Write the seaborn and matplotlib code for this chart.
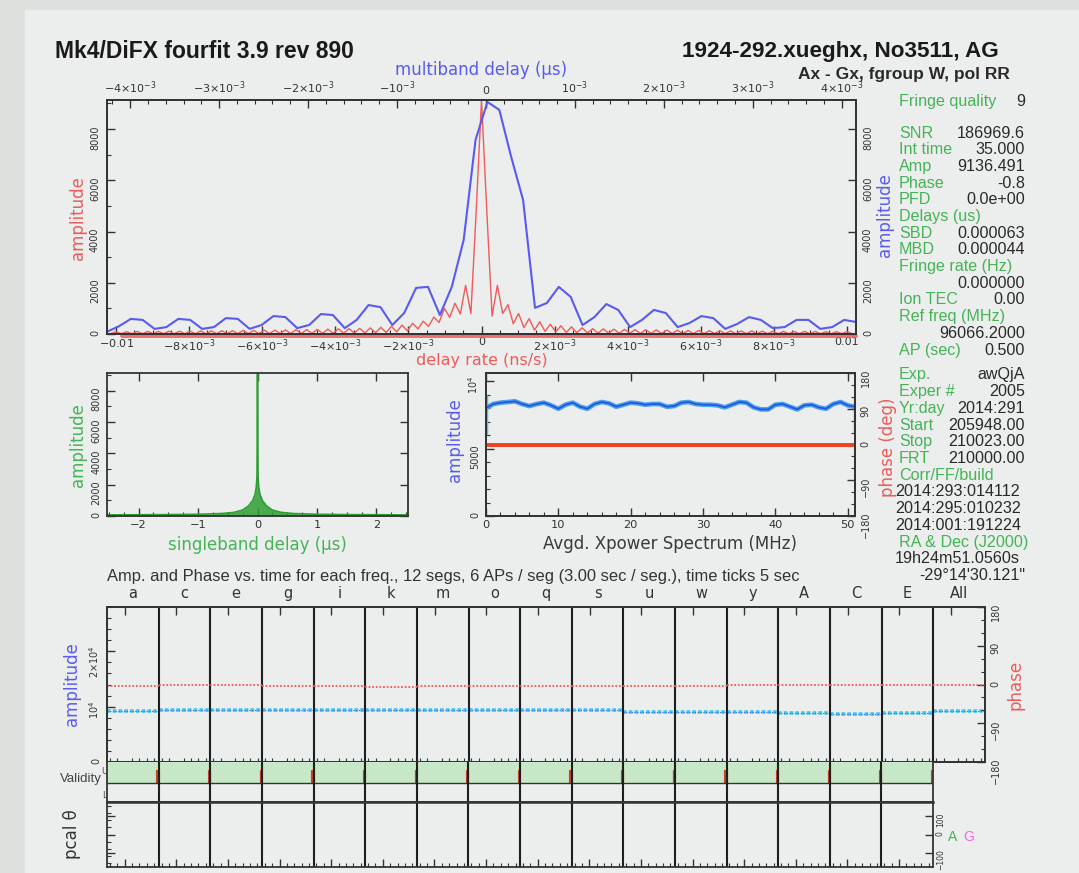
import numpy as np
import pandas as pd
import seaborn as sns
import matplotlib.pyplot as plt
from matplotlib.ticker import MultipleLocator, NullFormatter

# ---------------- data ----------------
# multiband delay function (blue), 64 samples across the window
mbd_lo, mbd_hi = -4.26e-3, 4.16e-3
mbd_amp = [90, 300, 590, 550, 200, 270, 590, 550, 200, 270,
           620, 590, 200, 350, 700, 660, 230, 350, 780, 740,
           230, 550, 1130, 1050, 350, 820, 1800, 1840, 740, 1840,
           3670, 7580, 9060, 8750, 6910, 5230, 1020, 1210, 1840, 1450,
           350, 660, 1170, 940, 270, 550, 940, 820, 270, 430,
           700, 620, 200, 390, 660, 550, 230, 270, 550, 550,
           200, 270, 550, 470]

# delay rate function (red): peak, then samples going outward each side
rate_peak = 9136
rate_step = 1.45e-4
rate_right = [4800, 700, 1900, 800, 1150, 400, 800, 250, 600, 150,
              480, 100, 380, 80, 320, 60, 280, 50, 240, 40,
              210, 30, 200, 30, 190, 25, 180, 25, 170, 20,
              170, 20, 160, 20, 150, 20, 150, 15, 140, 15,
              140, 15, 130, 15, 130, 15, 120, 10, 120, 10,
              120, 10, 110, 10, 110, 10, 100, 10, 100, 10,
              100, 10, 100, 10, 90, 10, 90, 10, 90, 10]
rate_left = [4800, 800, 1900, 780, 1200, 650, 1000, 450, 660, 300,
             500, 200, 420, 120, 350, 80, 300, 60, 260, 50,
             240, 40, 220, 35, 210, 30, 200, 30, 190, 25,
             180, 25, 170, 20, 170, 20, 160, 20, 150, 15,
             150, 15, 140, 15, 140, 15, 130, 10, 130, 10,
             120, 10, 120, 10, 110, 10, 110, 10, 110, 10,
             100, 10, 100, 10, 100, 10, 90, 10, 90, 10]
rate_lim = 0.01025
amp_max = 9136.491

# singleband delay envelope (green)
sbd_x = [-2.53, -2.0, -1.5, -1.0, -0.6, -0.4, -0.25, -0.15, -0.08, -0.04,
         -0.02, -0.008, 0.0, 0.008, 0.02, 0.04, 0.08, 0.15, 0.25, 0.4,
         0.6, 1.0, 1.5, 2.0, 2.53]
sbd_amp = [70, 80, 90, 110, 160, 230, 380, 650, 1000, 1400,
           1850, 2600, 9136, 2600, 1850, 1400, 1000, 650, 380, 230,
           160, 110, 90, 80, 70]

# averaged cross-power spectrum, 1 MHz steps
xp_freq = list(range(52))
xp_amp = [8000, 8300, 8400, 8450, 8500, 8300, 8150, 8300, 8400, 8200,
          7950, 8250, 8400, 8100, 7950, 8300, 8450, 8350, 8100, 8250,
          8400, 8350, 8250, 8300, 8300, 8100, 8150, 8400, 8450, 8300,
          8250, 8250, 8200, 8050, 8250, 8450, 8400, 8050, 7900, 7900,
          8250, 8300, 8100, 7900, 8200, 8250, 8050, 7950, 8300, 8450,
          8200, 8100]
xp_edge_freq = [0, 51]
xp_edge_lo = [6100, 6200]
xp_edge_hi = [9000, 8800]
xp_phase = -0.8

# per-channel amplitude / phase vs time
channels = ['a', 'c', 'e', 'g', 'i', 'k', 'm', 'o', 'q', 's', 'u', 'w',
            'y', 'A', 'C', 'E', 'All']
chan_amp = [9300, 9350, 9350, 9350, 9450, 9450, 9450, 9450, 9350, 9400,
            9100, 9050, 8950, 8800, 8750, 8800, 9136]
chan_phase = [-3, 0, 0, -3, -4, -5, -4, -4, -4, -4, -3, -3, -1, 0, -1, -2, -2]
seg_len = 35            # seconds in each channel box
time_ticks = [2, 7, 17, 22, 27, 32]
time_major = 12
n_aps = 70
ap_len = 0.5
flagged_aps = [67, 68, 69]

info_labels = ['Fringe quality', 'SNR', 'Int time', 'Amp', 'Phase', 'PFD',
               'Delays (us)', 'SBD', 'MBD', 'Fringe rate (Hz)', '', 'Ion TEC',
               'Ref freq (MHz)', '', 'AP (sec)', 'Exp.', 'Exper #', 'Yr:day',
               'Start', 'Stop', 'FRT', 'Corr/FF/build', '', '', '',
               'RA & Dec (J2000)', '', '']
info_values = ['9', '186969.6', '35.000', '9136.491', '-0.8', '0.0e+00', '',
               '0.000063', '0.000044', '', '0.000000', '0.00', '', '96066.2000',
               '0.500', 'awQjA', '2005', '2014:291', '205948.00', '210023.00',
               '210000.00', '', '2014:293:014112', '2014:295:010232',
               '2014:001:191224', '', '19h24m51.0560s', '-29\u00b014\'30.121"']
info_align = ['r'] * 22 + ['l', 'l', 'l', 'r', 'l', 'r']

# ---------------- style ----------------
RED = '#ef5a5a'
BLUE = '#5a5af0'
GREEN = '#2f9e35'
GTXT = '#45b356'
DARK = '#2a2a2a'
BG = '#ebeeec'

sns.set_theme(style='ticks')
plt.rcParams['font.family'] = ['DejaVu Sans']
plt.rcParams['axes.facecolor'] = BG
plt.rcParams['axes.edgecolor'] = '#333333'
plt.rcParams['axes.linewidth'] = 1.3
plt.rcParams['xtick.color'] = '#333333'
plt.rcParams['ytick.color'] = '#333333'

W, H = 1079, 873
fig = plt.figure(figsize=(W / 100, H / 100), dpi=100)
fig.patch.set_facecolor('#dde1de')
fig.patches.append(plt.Rectangle((25 / W, 0), 1, 1 - 10 / H, transform=fig.transFigure,
                                 color=BG, zorder=-10))


def box(l, t, r, b):
    return fig.add_axes([l / W, 1 - b / H, (r - l) / W, (b - t) / H])


def ftext(x, y, s, **kw):
    kw.setdefault('ha', 'center')
    kw.setdefault('va', 'center')
    fig.text(x / W, 1 - y / H, s, **kw)


def ticks_in(ax, size=7):
    ax.tick_params(which='both', direction='in', labelsize=size, pad=3)
    ax.tick_params(which='major', length=6, width=1)
    ax.tick_params(which='minor', length=3, width=0.8)


SANS = ['Liberation Sans', 'DejaVu Sans']
LAB = 12

# ---------------- titles ----------------
ftext(55, 52, 'Mk4/DiFX fourfit 3.9 rev 890', ha='left', fontsize=16.5,
      fontweight='bold', family=SANS, color='#1a1a1a')
ftext(999, 52, '1924-292.xueghx, No3511, AG', ha='right', fontsize=16.2,
      fontweight='bold', family=SANS, color='#1a1a1a')
ftext(1010, 74, 'Ax - Gx, fgroup W, pol RR', ha='right', fontsize=12.5,
      fontweight='bold', family=SANS, color='#2a2a2a')

# ---------------- top: delay rate / multiband delay ----------------
ax = box(107, 100, 856, 334)
rate_amp = rate_left[::-1] + [rate_peak] + rate_right
rate_x = rate_step * np.arange(-len(rate_left), len(rate_right) + 1)
sns.lineplot(x=rate_x, y=rate_amp, ax=ax, color=RED, lw=1.0, estimator=None)
ax.axhline(-95, xmin=0.02, xmax=1.0, color=RED, lw=2.8, clip_on=False, alpha=0.85)
ax.set_xlim(-rate_lim, rate_lim)
ax.set_ylim(0, amp_max)
rate_ticks = [-0.01, -0.008, -0.006, -0.004, -0.002, 0, 0.002, 0.004, 0.006, 0.008, 0.01]
rate_labels = ['$-0.01$', r'$-8{\times}10^{-3}$', r'$-6{\times}10^{-3}$',
               r'$-4{\times}10^{-3}$', r'$-2{\times}10^{-3}$', '0',
               r'$2{\times}10^{-3}$', r'$4{\times}10^{-3}$', r'$6{\times}10^{-3}$',
               r'$8{\times}10^{-3}$', '0.01']
ax.set_xticks(rate_ticks, rate_labels)
ax.xaxis.set_minor_locator(MultipleLocator(5e-4))
ax.set_yticks([0, 2000, 4000, 6000, 8000], ['0', '2000', '4000', '6000', '8000'])
ax.yaxis.set_minor_locator(MultipleLocator(1000))
ticks_in(ax)
ax.tick_params(axis='x', labelsize=8, pad=2.5)
ax.tick_params(axis='y', right=True, labelright=True, labelrotation=90, pad=5)
ax.tick_params(axis='x', top=False)
ax.set_xlabel('')
ax.set_ylabel('')

ax2 = ax.twiny()
mbd_x = np.linspace(mbd_lo, mbd_hi, len(mbd_amp))
sns.lineplot(x=mbd_x, y=mbd_amp, ax=ax2, color=BLUE, lw=1.5, estimator=None)
ax2.set_xlim(mbd_lo, mbd_hi)
mbd_ticks = [-4e-3, -3e-3, -2e-3, -1e-3, 0, 1e-3, 2e-3, 3e-3, 4e-3]
mbd_labels = [r'$-4{\times}10^{-3}$', r'$-3{\times}10^{-3}$', r'$-2{\times}10^{-3}$',
              r'$-10^{-3}$', '0', r'$10^{-3}$', r'$2{\times}10^{-3}$',
              r'$3{\times}10^{-3}$', r'$4{\times}10^{-3}$']
ax2.set_xticks(mbd_ticks, mbd_labels)
ax2.xaxis.set_minor_locator(MultipleLocator(2e-4))
ticks_in(ax2, size=8)
ax2.set_xlabel('')
ax2.set_ylabel('')

ftext(481, 70, 'multiband delay (\u03bcs)', color=BLUE, fontsize=LAB)
ftext(482, 361, 'delay rate (ns/s)', color=RED, fontsize=11.5)
ftext(78, 218, 'amplitude', color=RED, fontsize=LAB, rotation=90)
ftext(885, 215, 'amplitude', color=BLUE, fontsize=LAB, rotation=90)

# ---------------- middle left: singleband delay ----------------
axs = box(107, 373, 408, 516)
axs.fill_between(sbd_x, 0, sbd_amp, color=GREEN, alpha=0.85, lw=0)
sns.lineplot(x=sbd_x, y=sbd_amp, ax=axs, color=GREEN, lw=1.2, estimator=None)
axs.set_xlim(-2.53, 2.53)
axs.set_ylim(0, amp_max)
axs.set_xticks([-2, -1, 0, 1, 2], ['\u22122', '\u22121', '0', '1', '2'])
axs.xaxis.set_minor_locator(MultipleLocator(0.25))
axs.set_yticks([0, 2000, 4000, 6000, 8000], ['0', '2000', '4000', '6000', '8000'])
axs.yaxis.set_minor_locator(MultipleLocator(1000))
ticks_in(axs)
axs.tick_params(axis='x', labelsize=8.2)
axs.tick_params(top=True, right=True)
axs.tick_params(axis='y', labelrotation=90, pad=4)
axs.set_xlabel('')
axs.set_ylabel('')
ftext(78, 445, 'amplitude', color=GTXT, fontsize=LAB, rotation=90)
ftext(257, 545, 'singleband delay (\u03bcs)', color=GTXT, fontsize=LAB)

# ---------------- middle right: cross power spectrum ----------------
axx = box(486, 373, 855, 516)
axx.vlines(xp_edge_freq, xp_edge_lo, xp_edge_hi, color='#3cc8e8', lw=2.5)
sns.lineplot(x=xp_freq, y=xp_amp, ax=axx, color='#4aa0f0', lw=3.4, estimator=None)
sns.lineplot(x=xp_freq, y=xp_amp, ax=axx, color='#1f55d8', lw=1.2, estimator=None)
axx.set_xlim(0, 51)
axx.set_ylim(0, 10600)
axx.set_xticks([0, 10, 20, 30, 40, 50])
axx.xaxis.set_minor_locator(MultipleLocator(2))
axx.set_yticks([0, 5000, 10000], ['0', '5000', '$10^4$'])
axx.yaxis.set_minor_locator(MultipleLocator(1000))
ticks_in(axx)
axx.tick_params(axis='x', labelsize=8.2, top=True)
axx.tick_params(axis='y', labelrotation=90, pad=4)
axx.set_xlabel('')
axx.set_ylabel('')
axp = axx.twinx()
axp.axhline(xp_phase, color='#f0401e', lw=2.8)
axp.set_ylim(-180, 180)
axp.set_yticks([-180, -90, 0, 90, 180], ['\u2212180', '\u221290', '0', '90', '180'])
axp.yaxis.set_minor_locator(MultipleLocator(30))
ticks_in(axp)
axp.tick_params(axis='y', labelrotation=90, pad=4)
ftext(455, 440, 'amplitude', color=BLUE, fontsize=LAB, rotation=90)
ftext(888, 447, 'phase (deg)', color=RED, fontsize=LAB, rotation=90)
ftext(670, 544, 'Avgd. Xpower Spectrum (MHz)', color='#3a3a3a', fontsize=LAB)

# ---------------- text panel ----------------
for r, (lab, val, al) in enumerate(zip(info_labels, info_values, info_align)):
    if r == 0:
        y = 101.7
    elif r <= 14:
        y = 133 + (r - 1) * 16.7
    else:
        y = 375 + (r - 15) * 16.7
    if lab:
        ftext(899, y, lab, ha='left', color=GTXT, fontsize=11.6, family=SANS)
    if val and al == 'r':
        ftext(1025, y, val, ha='right', color=DARK, fontsize=11.6, family=SANS)
    elif val:
        ftext(895, y, val, ha='left', color=DARK, fontsize=11.6, family=SANS)

# ---------------- bottom: amplitude & phase vs time ----------------
ftext(107, 577, 'Amp. and Phase vs. time for each freq., 12 segs, 6 APs / seg '
      '(3.00 sec / seg.), time ticks 5 sec', ha='left', fontsize=11.9,
      family=SANS, color='#333333')
n_ch = len(channels)
axb = box(107, 607, 985, 762)
axb.set_xlim(0, n_ch * seg_len)
axb.set_ylim(0, 28000)
for i in range(n_ch):
    x0, x1 = i * seg_len, (i + 1) * seg_len
    axb.hlines(chan_amp[i], x0, x1, color='#45c4f0', lw=2.6, linestyles=(0, (1, 0.6)))
    axb.hlines(chan_amp[i], x0, x1, color='#2a6fe0', lw=0.8, linestyles=(0, (1, 1.5)))
    axb.text(x0 + seg_len / 2, 1.085, channels[i], transform=axb.get_xaxis_transform(),
             ha='center', va='center', fontsize=10.5, color='#333333')
    if i > 0:
        axb.axvline(x0, color='#1e1e1e', lw=1.5)
major_t = [i * seg_len + time_major for i in range(n_ch)]
minor_t = [i * seg_len + t for i in range(n_ch) for t in time_ticks]
axb.set_xticks(major_t)
axb.set_xticks(minor_t, minor=True)
axb.xaxis.set_major_formatter(NullFormatter())
axb.set_yticks([0, 10000, 20000], ['0', '$10^4$', r'$2{\times}10^4$'])
axb.yaxis.set_minor_locator(MultipleLocator(2000))
ticks_in(axb)
axb.tick_params(axis='x', top=True, bottom=False, labelbottom=False)
axb.tick_params(axis='y', labelrotation=90, pad=4)
axbp = axb.twinx()
axbp.set_ylim(-180, 180)
for i in range(n_ch):
    axbp.hlines(chan_phase[i], i * seg_len, (i + 1) * seg_len, color=RED, lw=1.3,
                linestyles=(0, (1, 1)))
axbp.set_yticks([-180, -90, 0, 90, 180], ['\u2212180', '\u221290', '0', '90', '180'])
axbp.yaxis.set_minor_locator(MultipleLocator(30))
ticks_in(axbp)
axbp.tick_params(axis='y', labelrotation=90, pad=4)
ftext(72, 684, 'amplitude', color=BLUE, fontsize=LAB, rotation=90)
ftext(1015, 685, 'phase', color=RED, fontsize=LAB, rotation=90)

# validity strip
n_val = n_ch - 1
axv = box(107, 762, 933, 802)
ap_x = (np.arange(n_val)[:, None] * seg_len + np.arange(n_aps) * ap_len).ravel()
axv.bar(ap_x, 21, bottom=19, width=ap_len, align='edge', color='#9fd89f',
        edgecolor='#d6f0d6', lw=0.4)
bad_x = (np.arange(n_val)[:, None] * seg_len + np.array(flagged_aps) * ap_len).ravel()
axv.bar(bad_x, 13, bottom=19, width=ap_len, align='edge', color='#c8402a',
        edgecolor='#c8402a', lw=0.8)
axv.axhline(19, color='#333333', lw=1)
for i in range(1, n_val):
    axv.axvline(i * seg_len, color='#1e1e1e', lw=1.5)
axv.set_xlim(0, n_val * seg_len)
axv.set_ylim(0, 40)
axv.set_xticks([])
axv.set_yticks([])
axv.spines['top'].set_visible(False)
ftext(102, 779, 'Validity', ha='right', fontsize=9.5, color='#444444', family=SANS)
ftext(104, 772, 'U', fontsize=6, color='#444444')
ftext(104, 795, 'L', fontsize=6, color='#444444')

# pcal
axc = box(107, 802, 933, 867)
axc.set_xlim(0, n_val * seg_len)
axc.set_ylim(-180, 180)
for i in range(1, n_val):
    axc.axvline(i * seg_len, color='#1e1e1e', lw=1.5)
axc.set_xticks(major_t[:n_val])
axc.set_xticks(minor_t[:n_val * len(time_ticks)], minor=True)
axc.xaxis.set_major_formatter(NullFormatter())
axc.yaxis.set_minor_locator(MultipleLocator(40))
axc.set_yticks([-100, 0, 100], ['\u2212100', '0', '100'])
ticks_in(axc, size=5.5)
axc.tick_params(axis='y', left=True, labelleft=False, right=True, labelright=True,
                labelrotation=90, pad=2)
axc.spines['top'].set_linewidth(1.8)
ftext(72, 834, 'pcal \u03b8', fontsize=LAB, rotation=90, color='#333333')
ftext(953, 837, 'A', fontsize=10, color=GTXT, family=SANS)
ftext(969, 837, 'G', fontsize=10, color='#ee66ee', family=SANS)

fig.savefig('out.png', dpi=100, facecolor=fig.get_facecolor())
